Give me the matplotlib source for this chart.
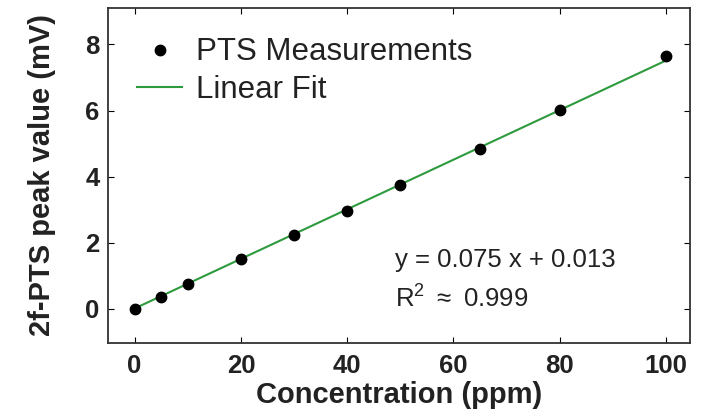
import matplotlib
matplotlib.use("Agg")
import matplotlib.pyplot as plt
import numpy as np

plt.rcParams['font.family'] = ['Liberation Sans', 'DejaVu Sans']
plt.rcParams['mathtext.fontset'] = 'custom'
plt.rcParams['mathtext.rm'] = 'Liberation Sans'

conc = [0, 5, 10, 20, 30, 40, 50, 65, 80, 100]
peak = [0.0, 0.37, 0.75, 1.5, 2.25, 2.97, 3.75, 4.85, 6.02, 7.65]
slope = 0.075
intercept = 0.013
xticks = [0, 20, 40, 60, 80, 100]
yticks = [0, 2, 4, 6, 8]

fig = plt.figure(figsize=(7.07, 4.12), dpi=100)
ax = fig.add_axes([108/707, 1-343/412, (690-108)/707, (343-8)/412])

xf = np.array([conc[0], conc[-1]])
ax.plot(conc, peak, 'o', color='black', markersize=7.5, label='PTS Measurements', zorder=3)
ax.plot(xf, slope*xf + intercept, '-', color='#2e9a3e', lw=1.5, label='Linear Fit', zorder=2)

ax.set_xlim(-5, 104.5)
ax.set_ylim(-1.03, 9.1)
ax.set_xticks(xticks)
ax.set_yticks(yticks)
ax.tick_params(direction='in', top=True, right=True, length=4, width=0.8, labelsize=18.5, pad=8)
ax.tick_params(axis='y', pad=6)
for lab in ax.get_xticklabels() + ax.get_yticklabels():
    lab.set_fontweight('bold')
    lab.set_color('#222222')
for s in ax.spines.values():
    s.set_linewidth(1.3)
    s.set_color('#333333')

ax.set_xlabel('Concentration (ppm)', fontsize=21, fontweight='bold', labelpad=2, color='#222222')
ax.set_ylabel('2f-PTS peak value (mV)', fontsize=21, fontweight='bold', labelpad=21, color='#222222')

leg = ax.legend(loc='upper left', bbox_to_anchor=(0.05, 0.912), frameon=False, fontsize=22.5,
                handlelength=1.45, borderaxespad=0, borderpad=0, handletextpad=0.42,
                labelspacing=0.25)
for t in leg.get_texts():
    t.set_color('#222222')

ax.text(0.493, 0.248, 'y = 0.075 x + 0.013', transform=ax.transAxes, fontsize=18.5,
        color='#222222', va='center')
ax.text(0.493, 0.134, r'R$^2$ $\approx$ 0.999', transform=ax.transAxes, fontsize=18.5,
        color='#222222', va='center')

fig.savefig('out.png', dpi=100)
